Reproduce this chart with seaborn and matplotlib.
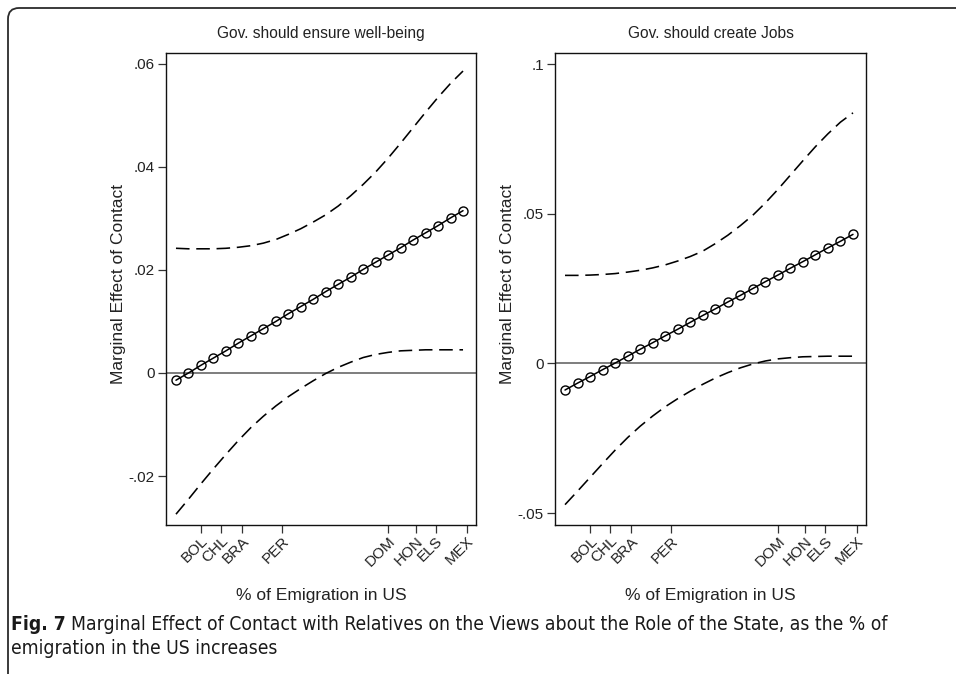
import matplotlib
matplotlib.use("Agg")
import matplotlib.pyplot as plt
import seaborn as sns
import pandas as pd
from matplotlib.patches import FancyBboxPatch
from matplotlib.transforms import IdentityTransform

# ---------------- data ----------------
emigration = [0.0, 0.5, 1.0, 1.5, 2.0, 2.5, 3.0, 3.5, 4.0, 4.5, 5.0, 5.5,
              6.0, 6.5, 7.0, 7.5, 8.0, 8.5, 9.0, 9.5, 10.0, 10.5, 11.0, 11.5]

countries = ["BOL", "CHL", "BRA", "PER", "DOM", "HON", "ELS", "MEX"]
country_emig = [1.0, 1.8, 2.65, 4.25, 8.5, 9.6, 10.4, 11.65]

# Panel 1: Gov. should ensure well-being
wb_effect = [-0.0014, 0.0000, 0.0015, 0.0029, 0.0043, 0.0058, 0.0072, 0.0086,
             0.0100, 0.0115, 0.0129, 0.0143, 0.0158, 0.0172, 0.0186, 0.0201,
             0.0215, 0.0229, 0.0243, 0.0258, 0.0272, 0.0286, 0.0301, 0.0315]
wb_upper = [0.0242, 0.0241, 0.0241, 0.0241, 0.0242, 0.0244, 0.0247, 0.0252,
            0.0259, 0.0269, 0.0280, 0.0293, 0.0307, 0.0324, 0.0344, 0.0366,
            0.0390, 0.0417, 0.0446, 0.0476, 0.0506, 0.0535, 0.0562, 0.0586]
wb_lower = [-0.0274, -0.0245, -0.0215, -0.0186, -0.0158, -0.0131, -0.0106, -0.0084,
            -0.0064, -0.0046, -0.0030, -0.0015, -0.0001, 0.0011, 0.0021, 0.0030,
            0.0036, 0.0040, 0.0043, 0.0044, 0.0045, 0.0045, 0.0045, 0.0045]

# Panel 2: Gov. should create Jobs
jobs_effect = [-0.0089, -0.0066, -0.0044, -0.0021, 0.0001, 0.0024, 0.0047, 0.0069,
               0.0092, 0.0114, 0.0137, 0.0160, 0.0182, 0.0205, 0.0227, 0.0250,
               0.0273, 0.0295, 0.0318, 0.0340, 0.0363, 0.0386, 0.0408, 0.0431]
jobs_upper = [0.0294, 0.0294, 0.0295, 0.0297, 0.0300, 0.0305, 0.0311, 0.0319,
              0.0329, 0.0342, 0.0357, 0.0375, 0.0400, 0.0428, 0.0460, 0.0495,
              0.0536, 0.0581, 0.0629, 0.0677, 0.0724, 0.0767, 0.0806, 0.0837]
jobs_lower = [-0.0472, -0.0427, -0.0381, -0.0335, -0.0290, -0.0248, -0.0210, -0.0176,
              -0.0145, -0.0118, -0.0093, -0.0070, -0.0049, -0.0031, -0.0015, -0.0002,
              0.0008, 0.0015, 0.0019, 0.0022, 0.0023, 0.0024, 0.0024, 0.0024]

wb_yticks = [-0.02, 0.0, 0.02, 0.04, 0.06]
wb_yticklabels = ["-.02", "0", ".02", ".04", ".06"]
jobs_yticks = [-0.05, 0.0, 0.05, 0.1]
jobs_yticklabels = ["-.05", "0", ".05", ".1"]

titles = ["Gov. should ensure well-being", "Gov. should create Jobs"]
caption_bold = "Fig. 7"
caption_line1 = ("Marginal Effect of Contact with Relatives on the Views about the "
                 "Role of the State, as the % of")
caption_line2 = "emigration in the US increases"

# ---------------- style ----------------
sns.set_style("ticks")
plt.rcParams["font.family"] = ["Liberation Sans", "DejaVu Sans"]

W, H = 956, 674
fig = plt.figure(figsize=(W / 100, H / 100), dpi=100)
fig.patch.set_facecolor("white")


def px_axes(x0, y0, x1, y1):
    return fig.add_axes([x0 / W, 1 - y1 / H, (x1 - x0) / W, (y1 - y0) / H])


ax1 = px_axes(166, 53, 476, 525)
ax2 = px_axes(555, 53, 866, 525)

panels = [
    (ax1, wb_effect, wb_upper, wb_lower, wb_yticks, wb_yticklabels, (-0.0295, 0.0621)),
    (ax2, jobs_effect, jobs_upper, jobs_lower, jobs_yticks, jobs_yticklabels, (-0.054, 0.1037)),
]

dash = (0, (8.5, 4.2))
for i, (ax, eff, up, lo, yt, ytl, ylim) in enumerate(panels):
    df = pd.DataFrame({"emig": emigration, "eff": eff, "up": up, "lo": lo})
    ax.axhline(0, color="#5a5a5a", lw=1.1, zorder=1)
    sns.lineplot(data=df, x="emig", y="up", ax=ax, color="black", lw=1.15,
                 linestyle=dash, zorder=2)
    sns.lineplot(data=df, x="emig", y="lo", ax=ax, color="black", lw=1.15,
                 linestyle=dash, zorder=2)
    sns.lineplot(data=df, x="emig", y="eff", ax=ax, color="black", lw=1.1,
                 marker="o", markersize=6.5, markerfacecolor="none",
                 markeredgecolor="black", markeredgewidth=1.0, zorder=3)
    ax.set_xlim(-0.4, 12.02)
    ax.set_ylim(*ylim)
    ax.set_yticks(yt)
    ax.set_yticklabels(ytl, fontsize=11, color="#222222")
    ax.set_xticks(country_emig)
    ax.set_xticklabels(countries, fontsize=11, color="#222222", rotation=45,
                       ha="right", va="top", rotation_mode="anchor")
    ax.tick_params(axis="both", length=6, width=0.9, color="#333333", pad=2)
    ax.tick_params(axis="x", pad=0.5)
    for s in ax.spines.values():
        s.set_visible(True)
        s.set_color("#111111")
        s.set_linewidth(1.0)
    ax.set_xlabel("% of Emigration in US", fontsize=12.5, color="#222222")
    ax.set_ylabel("Marginal Effect of Contact", fontsize=12.5, color="#222222")
    ax.xaxis.set_label_coords(0.5, -0.133)
    ax.yaxis.set_label_coords(-0.129, 0.51)
    ax.set_title(titles[i], fontsize=11.2, color="#222222", pad=11)

# ---------------- rounded frame ----------------
frame = FancyBboxPatch((8, -60), 1020, 674 - 8 + 60, boxstyle="round,pad=0,rounding_size=11",
                       transform=IdentityTransform(), fill=False, ec="#2b2b2b", lw=1.3)
fig.add_artist(frame)

# ---------------- caption ----------------
cap_font = ["DejaVu Sans"]
fig.canvas.draw()
renderer = fig.canvas.get_renderer()
fs = 13.5
t1 = fig.text(11 / W, 1 - 625 / H, caption_bold, fontsize=fs, fontweight="bold",
              family=cap_font, fontstretch="condensed", color="#1a1a1a",
              va="center", ha="left")
t2 = fig.text(0, 1 - 625 / H, caption_line1, fontsize=fs, family=cap_font,
              fontstretch="condensed", color="#1a1a1a", va="center", ha="left")
t3 = fig.text(11 / W, 1 - 648 / H, caption_line2, fontsize=fs, family=cap_font,
              fontstretch="condensed", color="#1a1a1a", va="center", ha="left")
# fit the first caption line to the width it has in the reference (ends near x=885)
for _ in range(3):
    b1 = t1.get_window_extent(renderer)
    t2.set_x((b1.x1 + 5) / W)
    b2 = t2.get_window_extent(renderer)
    scale = (885 - 11) / (b2.x1 - b1.x0)
    fs = fs * scale
    for t in (t1, t2, t3):
        t.set_fontsize(fs)
b1 = t1.get_window_extent(renderer)
t2.set_x((b1.x1 + 5) / W)

fig.savefig("out.png", dpi=100)
